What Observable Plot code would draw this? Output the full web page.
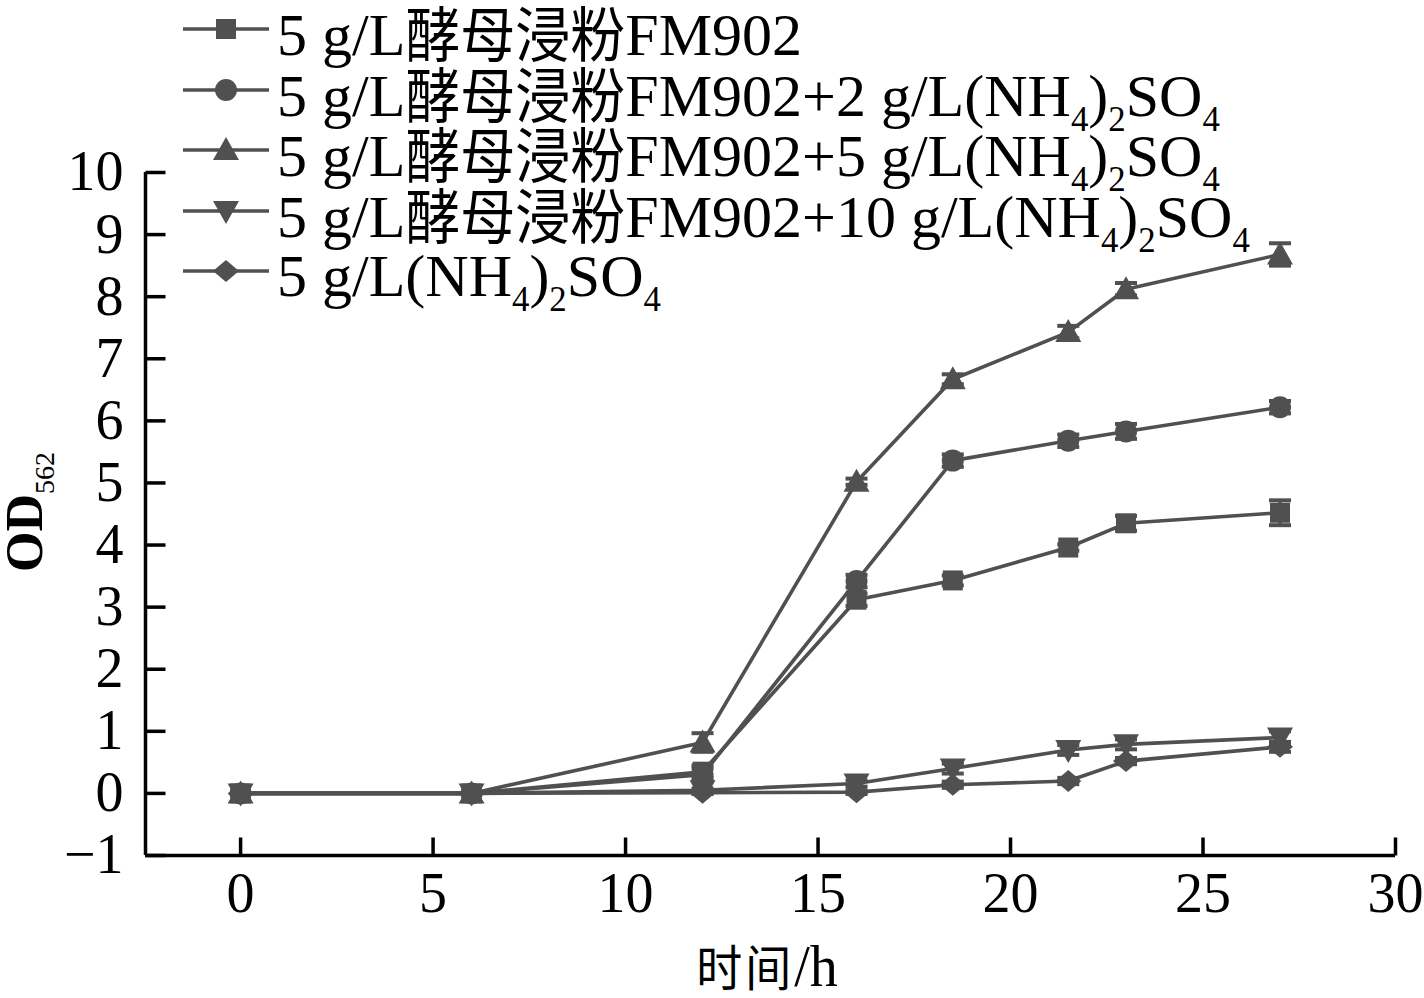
<!DOCTYPE html>
<html><head><meta charset="utf-8">
<script src="https://cdn.jsdelivr.net/npm/d3@7"></script>
<script src="https://cdn.jsdelivr.net/npm/@observablehq/plot@0.6"></script>
<style>
body{margin:0;background:#fff}
#wrap{position:relative;width:1424px;height:998px;overflow:hidden;font-family:"Liberation Serif","Noto Sans CJK SC",serif;color:#000}
#wrap svg.plot{position:absolute;left:0;top:0}
.lab{position:absolute;white-space:nowrap;line-height:1}
.leg{position:absolute;left:183px;top:0;white-space:nowrap}
.leg svg{position:absolute;left:0;top:0}
.legtext{position:absolute;left:94px;top:0;font-size:60px;line-height:1;white-space:nowrap}
.cjk{display:inline-block;font-family:"Noto Sans CJK SC",sans-serif;font-size:55px;transform:scaleY(1.1);transform-origin:50% 60%;}
sub{font-size:0.58em;vertical-align:-15px;line-height:0}
</style></head>
<body><div id="wrap"></div>
<script>
// ---- data ----
const times = [0, 6, 12, 16, 18.5, 21.5, 23, 27];
const seriesKeys = ["FM902", "FM902+2", "FM902+5", "FM902+10", "AS5"];
// "_d" marks a subscript digit
const legendLabels = [
  "5 g/L酵母浸粉FM902",
  "5 g/L酵母浸粉FM902+2 g/L(NH_4)_2SO_4",
  "5 g/L酵母浸粉FM902+5 g/L(NH_4)_2SO_4",
  "5 g/L酵母浸粉FM902+10 g/L(NH_4)_2SO_4",
  "5 g/L(NH_4)_2SO_4"
];
const od_FM902    = [0, 0, 0.35, 3.12, 3.43, 3.96, 4.35, 4.52];
const od_FM902_2  = [0, 0, 0.30, 3.42, 5.36, 5.68, 5.83, 6.22];
const od_FM902_5  = [0, 0, 0.82, 5.02, 6.67, 7.43, 8.12, 8.68];
const od_FM902_10 = [0, 0, 0.05, 0.16, 0.40, 0.70, 0.79, 0.90];
const od_AS5      = [0, 0, 0.01, 0.02, 0.14, 0.20, 0.52, 0.75];
const err_FM902    = [0, 0, 0.10, 0.10, 0.08, 0.05, 0.12, 0.20];
const err_FM902_2  = [0, 0, 0.10, 0.10, 0.10, 0.10, 0.12, 0.10];
const err_FM902_5  = [0, 0, 0.15, 0.05, 0.08, 0.10, 0.10, 0.18];
const err_FM902_10 = [0, 0, 0.03, 0.05, 0.08, 0.08, 0.08, 0.10];
const err_AS5      = [0, 0, 0.02, 0.03, 0.05, 0.05, 0.05, 0.08];
const xTicks = [0, 5, 10, 15, 20, 25, 30];
const yTicks = [-1, 0, 1, 2, 3, 4, 5, 6, 7, 8, 9, 10];
const xDomain = [-2.47, 30];
const yDomain = [-1, 10];
const xTitle = "时间/h";

// ---- symbols ----
const col = "#505050";
const sym = (f) => ({draw(ctx) { f(ctx); }});
const symbols = [
  sym(c => { c.rect(-10, -10, 20, 20); }),
  sym(c => { c.moveTo(11, 0); c.arc(0, 0, 11, 0, 2 * Math.PI); }),
  sym(c => { c.moveTo(0, -13); c.lineTo(13, 10); c.lineTo(-13, 10); c.closePath(); }),
  sym(c => { c.moveTo(0, 13); c.lineTo(13, -10); c.lineTo(-13, -10); c.closePath(); }),
  sym(c => { c.moveTo(0, -11); c.lineTo(13, 0); c.lineTo(0, 11); c.lineTo(-13, 0); c.closePath(); })
];
const capSym = sym(c => { c.moveTo(-11, 0); c.lineTo(11, 0); });
const yTickSym = sym(c => { c.moveTo(0, 0); c.lineTo(20, 0); });
const xTickSym = sym(c => { c.moveTo(0, 0); c.lineTo(0, -18); });

const values = [od_FM902, od_FM902_2, od_FM902_5, od_FM902_10, od_AS5];
const errors = [err_FM902, err_FM902_2, err_FM902_5, err_FM902_10, err_AS5];
const rows = seriesKeys.map((k, i) => times.map((t, j) => ({series: k, t, v: values[i][j], e: errors[i][j]})));
const all = rows.flat();

const marks = [
  Plot.line(all, {x: "t", y: "v", z: "series", stroke: col, strokeWidth: 3.6})
];
rows.forEach((r, i) => {
  const withErr = r.filter(d => d.e > 0);
  marks.push(Plot.ruleX(withErr, {x: "t", y1: d => d.v - d.e, y2: d => d.v + d.e, stroke: col, strokeWidth: 3}));
  marks.push(Plot.dot(withErr, {x: "t", y: d => d.v - d.e, symbol: capSym, stroke: col, strokeWidth: 4, fill: "none"}));
  marks.push(Plot.dot(withErr, {x: "t", y: d => d.v + d.e, symbol: capSym, stroke: col, strokeWidth: 4, fill: "none"}));
  marks.push(Plot.dot(r, {x: "t", y: "v", symbol: symbols[i], fill: col, stroke: "none"}));
});
// axes
marks.push(Plot.ruleX([xDomain[0]], {stroke: "#000", strokeWidth: 3.5}));
marks.push(Plot.ruleY([yDomain[0]], {stroke: "#000", strokeWidth: 3.5}));
marks.push(Plot.dot(yTicks, {x: () => xDomain[0], y: d => d, symbol: yTickSym, stroke: "#000", strokeWidth: 3.5, fill: "none"}));
marks.push(Plot.dot(xTicks, {x: d => d, y: () => yDomain[0], symbol: xTickSym, stroke: "#000", strokeWidth: 3.5, fill: "none"}));
marks.push(Plot.axisY(yTicks, {tickSize: 0, tickPadding: 22, fontSize: 56, tickFormat: d => d < 0 ? "\u2212" + Math.abs(d) : String(d), fill: "#000"}));
marks.push(Plot.axisX(xTicks, {tickSize: 0, tickPadding: 17, fontSize: 56, fill: "#000"}));

const plot = Plot.plot({
  width: 1424, height: 998,
  marginLeft: 145, marginRight: 29, marginTop: 172, marginBottom: 143,
  x: {domain: xDomain, label: null},
  y: {domain: yDomain, label: null},
  style: {fontFamily: '"Liberation Serif","Noto Sans CJK SC",serif', background: "transparent", overflow: "visible"},
  marks
});
plot.classList.add("plot");
const wrap = document.getElementById("wrap");
wrap.appendChild(plot);

// markup helper: CJK runs -> .cjk span, _d -> subscript
function markup(s) {
  return s
    .replace(/([\u4e00-\u9fff]+)/g, '<span class="cjk">$1</span>')
    .replace(/_(\d+)/g, "<sub>$1</sub>");
}

// axis titles
const xt = document.createElement("div");
xt.className = "lab";
xt.style.cssText = "left:767px;top:938px;font-size:56px;transform:translateX(-50%) scaleY(1.06);transform-origin:50% 50%";
xt.innerHTML = xTitle.replace(/([\u4e00-\u9fff]+)/g, '<span style="font-family:Noto Sans CJK SC;font-size:46px;letter-spacing:3px">$1</span>');
wrap.appendChild(xt);
const yt = document.createElement("div");
yt.className = "lab";
yt.style.cssText = "left:25px;top:512px;font-size:52px;font-weight:bold;transform:translate(-50%,-50%) rotate(-90deg)";
yt.innerHTML = 'OD<sub style="font-weight:normal;font-size:28px;vertical-align:-12px">562</sub>';
wrap.appendChild(yt);

// legend
const legLineY = [29, 90, 150, 211, 271];
legendLabels.forEach((lab, i) => {
  const row = document.createElement("div");
  row.className = "leg";
  row.style.top = (legLineY[i] - 30) + "px";
  const s = d3.create("svg").attr("width", 90).attr("height", 60);
  s.append("line").attr("x1", 0).attr("x2", 86).attr("y1", 30).attr("y2", 30).attr("stroke", col).attr("stroke-width", 3.6);
  s.append("path").attr("transform", "translate(43,30)").attr("d", d3.symbol(symbols[i])()).attr("fill", col);
  row.appendChild(s.node());
  const sp = document.createElement("div");
  sp.className = "legtext";
  sp.style.top = (30 + 25 - 50) + "px";
  sp.innerHTML = markup(lab);
  row.appendChild(sp);
  wrap.appendChild(row);
});
</script>
</body></html>
